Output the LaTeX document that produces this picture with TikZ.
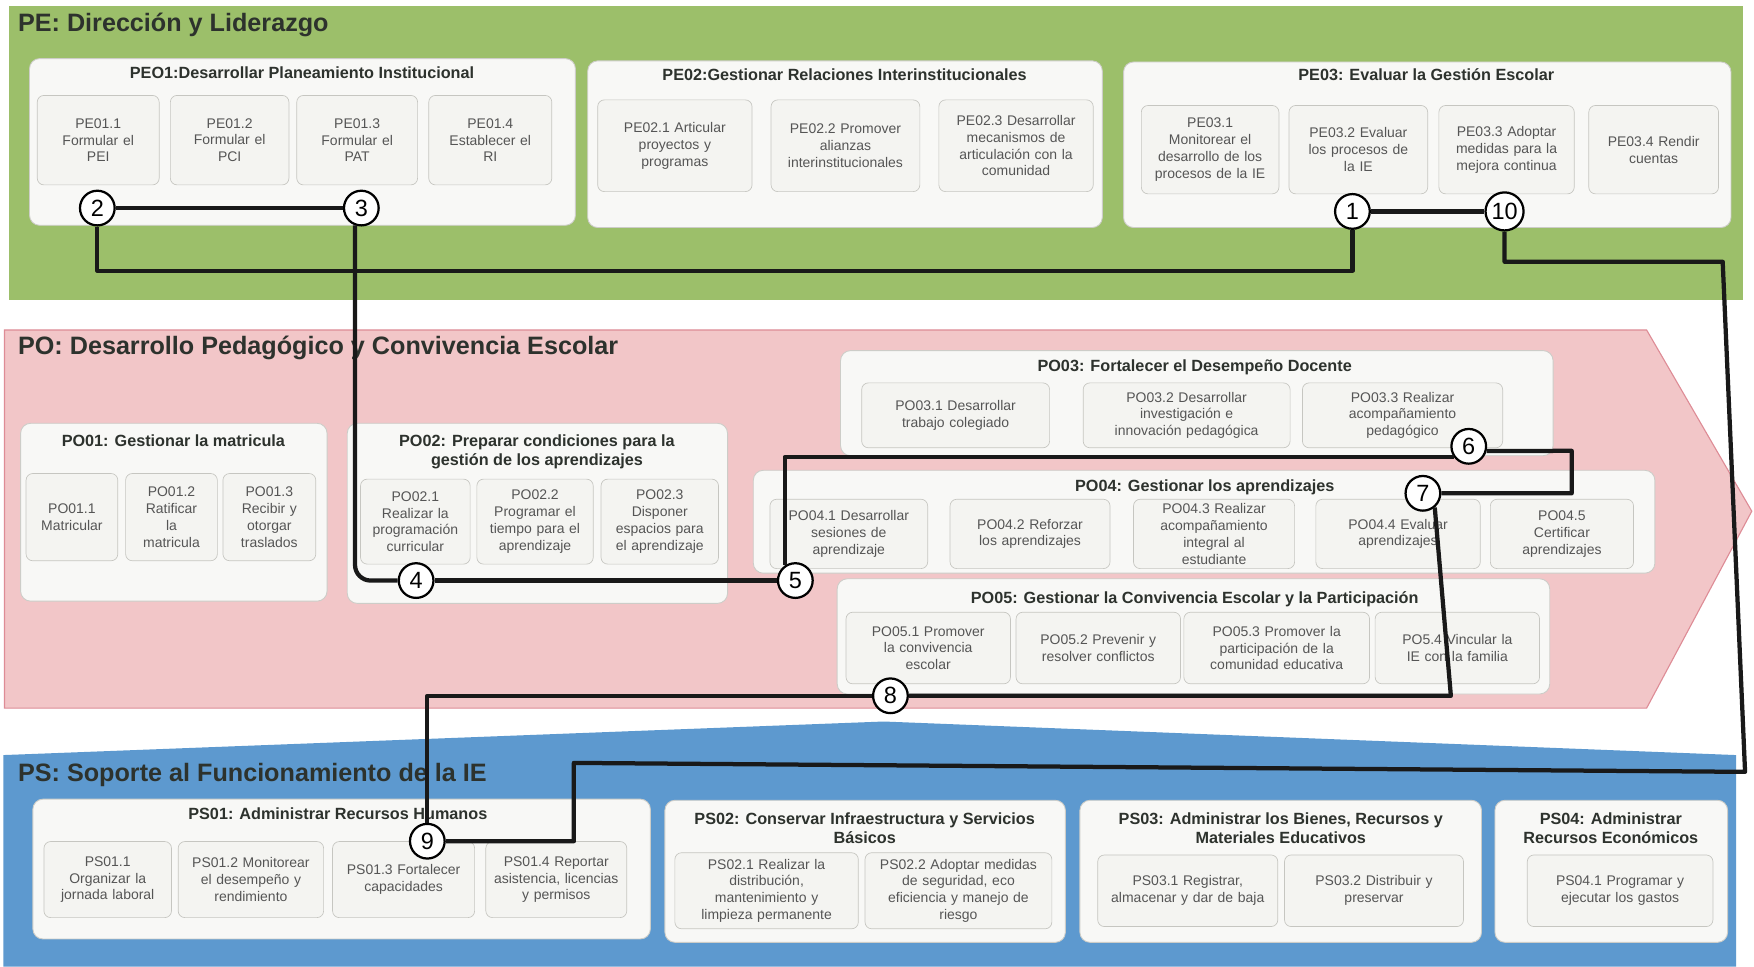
\documentclass[tikz,border=0pt]{standalone}
\usepackage{fontspec}
\setmainfont{Liberation Sans}
\definecolor{gband}{RGB}{156,191,106}
\definecolor{pband}{RGB}{242,198,200}
\definecolor{pedge}{RGB}{222,140,150}
\definecolor{bband}{RGB}{93,153,207}
\definecolor{grpfill}{RGB}{248,248,246}
\definecolor{grpdraw}{RGB}{205,205,200}
\definecolor{subfill}{RGB}{244,244,241}
\definecolor{subdraw}{RGB}{198,198,193}
\definecolor{ttl}{RGB}{45,50,45}
\definecolor{subtxt}{RGB}{85,85,85}
\tikzset{
  grp/.style={draw=grpdraw, fill=grpfill, rounded corners=9pt, line width=0.8pt, inner sep=0pt},
  sbx/.style={draw=subdraw, fill=subfill, rounded corners=6pt, line width=0.6pt, text=subtxt,
    font=\fontsize{12.5}{15}\selectfont, align=center, inner sep=2pt},
  bandtitle/.style={font=\bfseries\fontsize{22.5}{26}\selectfont, text=ttl, anchor=west, inner sep=0pt},
  grptitle/.style={font=\bfseries\fontsize{14.5}{17}\selectfont, text=ttl, align=center, inner sep=0pt},
  num/.style={circle, draw=black, line width=2pt, fill=white, minimum size=31pt, inner sep=0pt,
    font=\fontsize{21}{21}\selectfont},
  conn/.style={line width=3.8pt, black!90, line join=round},
}
\newcommand\mkbx[7]{%
  \pgfmathsetmacro\mkw{#5-#3}%
  \pgfmathsetmacro\mkh{#6-#4}%
  \pgfmathsetmacro\mktw{#5-#3-8}%
  \node[#1, minimum width=\mkw pt, minimum height=\mkh pt, text width=\mktw pt, anchor=north west] (#2) at (#3,#4) {#7};%
}
\begin{document}
\begin{tikzpicture}[x=1pt,y=-1pt]
\fill[white] (0,0) rectangle (1568,864);
\useasboundingbox (0,0) rectangle (1568,864);

% ---------- bands ----------
\fill[gband] (8,5) rectangle (1558,268);
\filldraw[fill=pband, draw=pedge, line width=1pt] (4,295) -- (1472,295) -- (1566,457) -- (1472,633) -- (4,633) -- cycle;
\fill[bband] (3,675) -- (790,645) -- (1552,675) -- (1552,864) -- (3,864) -- cycle;

\node[bandtitle] (pe) at (16,22) {PE: Dirección y Liderazgo};
\node[bandtitle] (po) at (16,311) {PO: Desarrollo Pedagógico y Convivencia Escolar};
\node[bandtitle] (ps) at (16,693) {PS: Soporte al Funcionamiento de la IE};

% ---------- PE ----------
\mkbx{grp}{pe01}{26}{52}{514}{201}{}
\node[grptitle] (pe01t) at (270,65) {PEO1:Desarrollar Planeamiento Institucional};
\mkbx{sbx}{pe011}{33}{85}{142}{165}{PE01.1\\Formular el\\PEI}
\mkbx{sbx}{pe012}{152}{85}{258}{165}{PE01.2\\Formular el\\PCI}
\mkbx{sbx}{pe013}{265}{85}{373}{165}{PE01.3\\Formular el\\PAT}
\mkbx{sbx}{pe014}{383}{85}{493}{165}{PE01.4\\Establecer el\\RI}

\mkbx{grp}{pe02}{525}{54}{985}{203}{}
\node[grptitle] (pe02t) at (755,67) {PE02:Gestionar Relaciones Interinstitucionales};
\mkbx{sbx}{pe021}{534}{89}{672}{171}{PE02.1 Articular\\proyectos y\\programas}
\mkbx{sbx}{pe022}{689}{89}{822}{171}{PE02.2 Promover\\alianzas\\interinstitucionales}
\mkbx{sbx}{pe023}{839}{89}{977}{171}{PE02.3 Desarrollar\\mecanismos de\\articulación con la\\comunidad}

\mkbx{grp}{pe03}{1004}{55}{1547}{203}{}
\node[grptitle] (pe03t) at (1275,67) {PE03: Evaluar la Gestión Escolar};
\mkbx{sbx}{pe031}{1020}{94}{1143}{173}{PE03.1\\Monitorear el\\desarrollo de los\\procesos de la IE}
\mkbx{sbx}{pe032}{1152}{94}{1276}{173}{PE03.2 Evaluar\\los procesos de\\la IE}
\mkbx{sbx}{pe033}{1286}{94}{1407}{173}{PE03.3 Adoptar\\medidas para la\\mejora continua}
\mkbx{sbx}{pe034}{1420}{94}{1536}{173}{PE03.4 Rendir\\cuentas}

% ---------- PO ----------
\mkbx{grp}{po01}{18}{378}{292}{537}{}
\node[grptitle] (po01t) at (155,394) {PO01: Gestionar la matricula};
\mkbx{sbx}{po011}{23}{423}{105}{501}{PO01.1\\Matricular}
\mkbx{sbx}{po012}{112}{423}{194}{501}{PO01.2\\Ratificar\\la\\matricula}
\mkbx{sbx}{po013}{199}{423}{282}{501}{PO01.3\\Recibir y\\otorgar\\traslados}

\mkbx{grp}{po02}{310}{378}{650}{539}{}
\node[grptitle] (po02t) at (480,404) {PO02: Preparar condiciones para la\\gestión de los aprendizajes};
\mkbx{sbx}{po021}{322}{428}{420}{504}{PO02.1\\Realizar la\\programación\\curricular}
\mkbx{sbx}{po022}{426}{428}{530}{504}{PO02.2\\Programar el\\tiempo para el\\aprendizaje}
\mkbx{sbx}{po023}{537}{428}{642}{504}{PO02.3\\Disponer\\espacios para\\el aprendizaje}

\mkbx{grp}{po03}{751}{313}{1388}{407}{}
\node[grptitle] (po03t) at (1068,328) {PO03: Fortalecer el Desempeño Docente};
\mkbx{sbx}{po031}{770}{342}{938}{400}{PO03.1 Desarrollar\\trabajo colegiado}
\mkbx{sbx}{po032}{968}{342}{1153}{400}{PO03.2 Desarrollar\\investigación e\\innovación pedagógica}
\mkbx{sbx}{po033}{1164}{342}{1343}{400}{PO03.3 Realizar\\acompañamiento\\pedagógico}

\mkbx{grp}{po04}{673}{420}{1479}{512}{}
\node[grptitle] (po04t) at (1077,436) {PO04: Gestionar los aprendizajes};
\mkbx{sbx}{po041}{688}{446}{829}{508}{PO04.1 Desarrollar\\sesiones de\\aprendizaje}
\mkbx{sbx}{po042}{849}{446}{992}{508}{PO04.2 Reforzar\\los aprendizajes}
\mkbx{sbx}{po043}{1013}{446}{1157}{508}{PO04.3 Realizar\\acompañamiento\\integral al\\estudiante}
\mkbx{sbx}{po044}{1176}{446}{1323}{508}{PO04.4 Evaluar\\aprendizajes}
\mkbx{sbx}{po045}{1332}{446}{1460}{508}{PO04.5\\Certificar\\aprendizajes}

\mkbx{grp}{po05}{748}{517}{1385}{620}{}
\node[grptitle] (po05t) at (1068,536) {PO05: Gestionar la Convivencia Escolar y la Participación};
\mkbx{sbx}{po051}{756}{547}{903}{611}{PO05.1 Promover\\la convivencia\\escolar}
\mkbx{sbx}{po052}{908}{547}{1055}{611}{PO05.2 Prevenir y\\resolver conflictos}
\mkbx{sbx}{po053}{1058}{547}{1224}{611}{PO05.3 Promover la\\participación de la\\comunidad educativa}
\mkbx{sbx}{po054}{1229}{547}{1376}{611}{PO5.4 Vincular la\\IE con la familia}

% ---------- PS ----------
\mkbx{grp}{ps01}{29}{714}{581}{839}{}
\node[grptitle] (ps01t) at (302,727) {PS01: Administrar Recursos Humanos};
\mkbx{sbx}{ps011}{39}{752}{153}{820}{PS01.1\\Organizar la\\jornada laboral}
\mkbx{sbx}{ps012}{159}{752}{289}{820}{PS01.2 Monitorear\\el desempeño y\\rendimiento}
\mkbx{sbx}{ps013}{297}{752}{424}{820}{PS01.3 Fortalecer\\capacidades}
\mkbx{sbx}{ps014}{434}{752}{560}{820}{PS01.4 Reportar\\asistencia, licencias\\y permisos}

\mkbx{grp}{ps02}{594}{715}{952}{842}{}
\node[grptitle] (ps02t) at (773,740) {PS02: Conservar Infraestructura y Servicios\\Básicos};
\mkbx{sbx}{ps021}{603}{762}{767}{830}{PS02.1 Realizar la\\distribución,\\mantenimiento y\\limpieza permanente}
\mkbx{sbx}{ps022}{773}{762}{940}{830}{PS02.2 Adoptar medidas\\de seguridad, eco\\eficiencia y manejo de\\riesgo}

\mkbx{grp}{ps03}{965}{715}{1324}{842}{}
\node[grptitle] (ps03t) at (1145,740) {PS03: Administrar los Bienes, Recursos y\\Materiales Educativos};
\mkbx{sbx}{ps031}{981}{764}{1142}{828}{PS03.1 Registrar,\\almacenar y dar de baja}
\mkbx{sbx}{ps032}{1148}{764}{1308}{828}{PS03.2 Distribuir y\\preservar}

\mkbx{grp}{ps04}{1336}{715}{1544}{842}{}
\node[grptitle] (ps04t) at (1440,740) {PS04: Administrar\\Recursos Económicos};
\mkbx{sbx}{ps041}{1365}{764}{1531}{828}{PS04.1 Programar y\\ejecutar los gastos}

% ---------- numbered circles ----------
\node[num] (c1) at (1209,189) {1};
\node[num] (c2) at (87,186) {2};
\node[num] (c3) at (323,186) {3};
\node[num] (c4) at (372,519) {4};
\node[num] (c5) at (711,519) {5};
\node[num] (c6) at (1313,399) {6};
\node[num] (c7) at (1272,441) {7};
\node[num] (c8) at (796,622) {8};
\node[num] (c9) at (382,752) {9};
\node[num, minimum size=34pt] (c10) at (1345,189) {10};

% ---------- bend points ----------
\coordinate (k1) at (640,242);
\coordinate (k2) at (1540,234);
\coordinate (k3) at (1560,690);
\coordinate (k4) at (513,682);
\coordinate (k5) at (1405,403);
\coordinate (k6) at (1297,622);

% ---------- connectors ----------
\draw[conn] (c2) -- (c3);
\draw[conn] (c2) |- (k1) -| (c1);
\draw[conn] (c1) -- (c10);
\draw[conn] (c10) |- (k2) -- (k3) -- (k4) |- (c9);
\draw[conn, rounded corners=14pt] (c3.250) |- (c4);
\draw[conn] (c4) -- (c5);
\draw[conn] (c5.125) |- (c6.215);
\draw[conn] (c6.345) -- (k5) |- (c7);
\draw[conn] (c7.-50) -- (k6) -- (c8);
\draw[conn] (c8) -| (c9);
\end{tikzpicture}
\end{document}
